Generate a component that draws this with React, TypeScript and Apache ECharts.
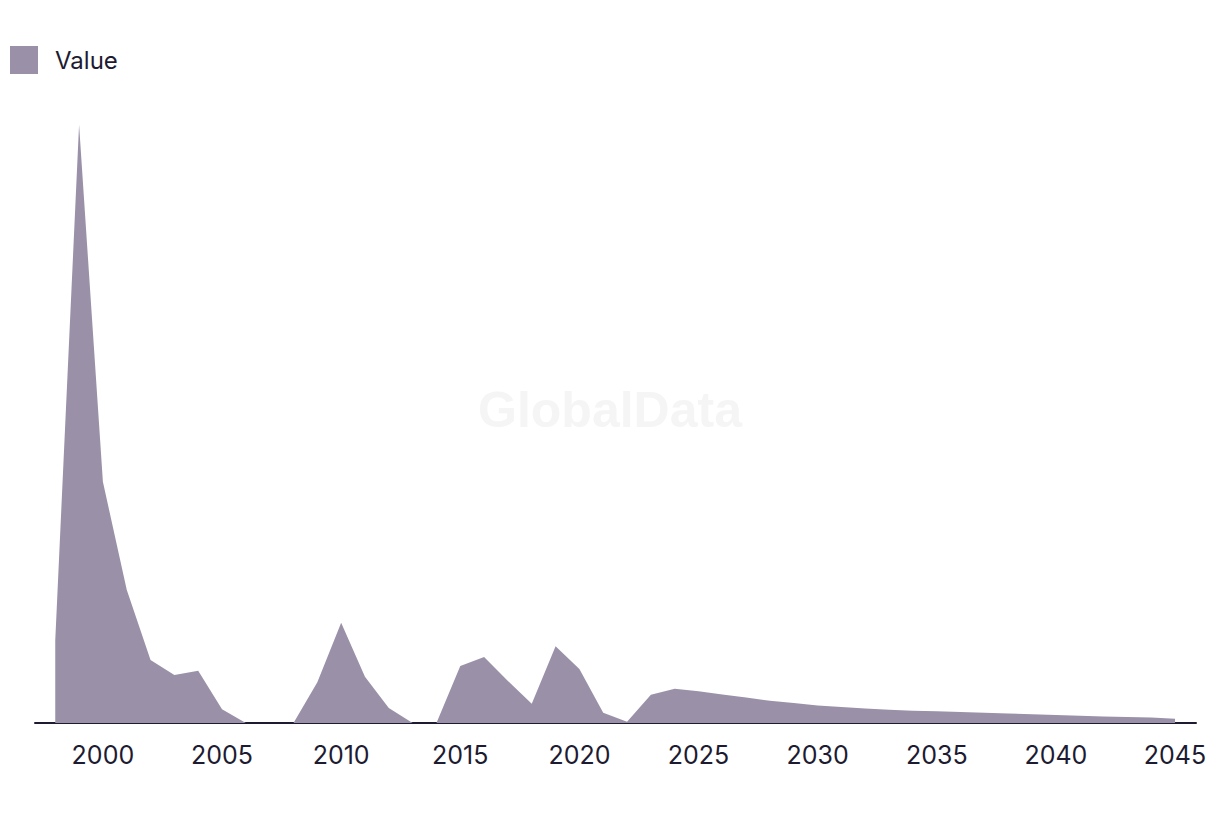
import React, { useEffect, useRef } from "react";
import * as echarts from "echarts";

const years: number[] = [
  1998, 1999, 2000, 2001, 2002, 2003, 2004, 2005, 2006, 2007, 2008, 2009,
  2010, 2011, 2012, 2013, 2014, 2015, 2016, 2017, 2018, 2019, 2020, 2021,
  2022, 2023, 2024, 2025, 2026, 2027, 2028, 2029, 2030, 2031, 2032, 2033,
  2034, 2035, 2036, 2037, 2038, 2039, 2040, 2041, 2042, 2043, 2044, 2045,
];

const values: number[] = [
  13.8, 99.7, 40.2, 22.2, 10.5, 8.0, 8.7, 2.3, 0, 0, 0, 6.8,
  16.7, 7.7, 2.5, 0, 0, 9.5, 11.0, 7.0, 3.2, 12.8, 9.0, 1.7,
  0.2, 4.7, 5.7, 5.3, 4.75, 4.25, 3.7, 3.35, 2.9, 2.65, 2.4, 2.2,
  2.05, 1.95, 1.85, 1.7, 1.6, 1.45, 1.35, 1.2, 1.1, 1.0, 0.9, 0.7,
];

const tickYears: number[] = [2000, 2005, 2010, 2015, 2020, 2025, 2030, 2035, 2040, 2045];

const seriesName = "Value";
const watermark = "GlobalData";

export default function App() {
  const ref = useRef<HTMLDivElement>(null);

  useEffect(() => {
    document.body.style.margin = "0";
    if (!ref.current) return;
    const chart = echarts.init(ref.current, null, { renderer: "svg" });
    const textColor = "#1d1b31";
    chart.setOption({
      animation: false,
      backgroundColor: "#ffffff",
      textStyle: { fontFamily: "Inter, 'Liberation Sans', sans-serif" },
      legend: {
        left: 5,
        top: 41,
        itemWidth: 28,
        itemHeight: 28,
        icon: "rect",
        data: [seriesName],
        textStyle: {
          color: textColor,
          fontSize: 24,
          fontFamily: "Inter, 'Liberation Sans', sans-serif",
          padding: [0, 0, 6, 12],
        },
      },
      graphic: [
        {
          type: "text",
          left: "center",
          top: 385,
          silent: true,
          z: -1,
          style: {
            text: watermark,
            fontSize: 50,
            fontWeight: "bold",
            fontFamily: "'Liberation Sans', Arial, sans-serif",
            fill: "#f5f5f5",
          },
        },
      ],
      grid: { left: 35, right: 24, top: 123, bottom: 91, containLabel: false },
      xAxis: {
        type: "value",
        min: 1997.15,
        max: 2045.88,
        splitLine: { show: false },
        axisTick: { show: false },
        axisLine: { show: true, lineStyle: { color: textColor, width: 2 } },
        axisLabel: {
          customValues: tickYears,
          color: textColor,
          fontSize: 25,
          margin: 19,
          formatter: (v: number) => String(v),
        },
      },
      yAxis: {
        type: "value",
        min: 0,
        max: 100,
        show: false,
        splitLine: { show: false },
      },
      series: [
        {
          name: seriesName,
          type: "line",
          data: years.map((y, i) => [y, values[i]]),
          showSymbol: false,
          symbol: "none",
          lineStyle: { width: 0, color: "#9a91a9" },
          itemStyle: { color: "#9a91a9" },
          areaStyle: { color: "#9a91a9", opacity: 1 },
          z: 1,
        },
      ],
    });
    return () => chart.dispose();
  }, []);

  return <div ref={ref} style={{ width: 1220, height: 814 }} />;
}
